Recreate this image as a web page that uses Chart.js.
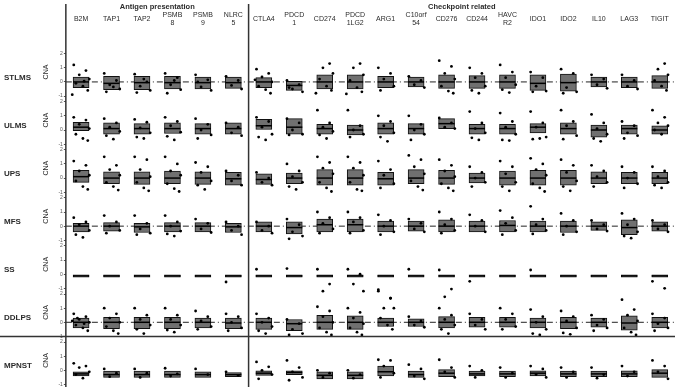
<!DOCTYPE html>
<html><head><meta charset="utf-8">
<script src="https://cdn.jsdelivr.net/npm/chart.js@4.4.1/dist/chart.umd.min.js"></script>
<style>html,body{margin:0;padding:0;background:#fff}</style>
</head><body>
<canvas id="c" width="675" height="387"></canvas>
<script>
// ---------- categories ----------
const genes = ["B2M","TAP1","TAP2","PSMB8","PSMB9","NLRC5","CTLA4","PDCD1","CD274","PDCD1LG2","ARG1","C10orf54","CD276","CD244","HAVCR2","IDO1","IDO2","IL10","LAG3","TIGIT"];
const geneLabels = [["B2M"],["TAP1"],["TAP2"],["PSMB","8"],["PSMB","9"],["NLRC","5"],["CTLA4"],["PDCD","1"],["CD274"],["PDCD","1LG2"],["ARG1"],["C10orf","54"],["CD276"],["CD244"],["HAVC","R2"],["IDO1"],["IDO2"],["IL10"],["LAG3"],["TIGIT"]];
const groupNames = ["Antigen presentation","Checkpoint related"];
const groupFirst = [0, 6];
const groupLast = [5, 19];
const cancers = ["STLMS","ULMS","UPS","MFS","SS","DDLPS","MPNST"];
const yTickValues = [-1, 0, 1, 2];
const refLineRows = ["STLMS","MFS","DDLPS"];

// ---------- values (CNA) ----------
const stlmsQ1  = [-0.4,-0.55,-0.55,-0.5,-0.5,-0.45,-0.4,-0.6,-0.5,-0.5,-0.4,-0.35,-0.45,-0.45,-0.45,-0.6,-0.65,-0.35,-0.4,-0.45];
const stlmsMed = [0,-0.1,-0.05,-0.05,-0.05,-0.05,0,-0.25,0,0,0,0,0,0,0,-0.1,-0.05,0,0,0];
const stlmsQ3  = [0.35,0.4,0.4,0.4,0.35,0.35,0.3,0.05,0.5,0.5,0.4,0.35,0.5,0.45,0.5,0.5,0.55,0.35,0.35,0.45];
const stlmsPts = [[1.2,0.8,0.5,0.2,-0.1,-0.3,-0.6,-0.9,0.05],[0.6,0.1,-0.2,-0.5,-0.7,-0.35],[0.55,0,-0.3,-0.6,-0.75,0.2],[0.6,0.3,-0.2,-0.55,-0.8,0.1],[0.5,0.15,-0.35,-0.6,0],[0.4,0.1,-0.25,-0.5],
  [0.9,0.6,0.35,0,-0.3,-0.55,-0.8,0.15],[0.1,-0.2,-0.5,-0.7,-0.4],[3.2,1.3,1.0,0.6,0.2,-0.3,-0.6,-0.8],[2.9,1.3,1.0,0.5,0.1,-0.4,-0.7,-0.85],[1.0,0.6,0.2,-0.3,-0.6],[0.4,0.1,-0.2,-0.4],[1.5,1.1,0.6,0.2,-0.3,-0.65,-0.8],[1.0,0.6,0.3,-0.3,-0.6,-0.8],[1.2,0.7,0.3,-0.2,-0.55,-0.75],[0.7,0.3,-0.3,-0.65,-0.7],[0.9,0.6,-0.4,-0.7,-0.8],[0.5,0.2,-0.2,-0.45],[0.5,0.1,-0.3,-0.5],[3.1,1.3,0.9,0.5,0.1,-0.3,-0.6]];

const ulmsQ1  = [-0.05,-0.3,-0.3,-0.25,-0.3,-0.3,0,-0.3,-0.3,-0.35,-0.3,-0.3,0.1,-0.3,-0.3,-0.2,-0.3,-0.5,-0.3,-0.3];
const ulmsMed = [0.2,0.1,0.1,0.1,0.1,0.1,0.3,0.2,0.1,0,0.1,0.1,0.45,0.1,0.1,0.2,0.1,0,0.1,0];
const ulmsQ3  = [0.55,0.5,0.45,0.5,0.45,0.5,0.75,0.8,0.4,0.35,0.5,0.45,0.8,0.4,0.4,0.45,0.5,0.35,0.35,0.3];
const ulmsPts = [[0.9,0.7,0.4,0.1,-0.3,-0.6,-0.75],[0.8,0.5,0.2,-0.1,-0.4,-0.65],[0.75,0.55,0.15,-0.2,-0.5,-0.6],[0.9,0.6,0.3,-0.15,-0.45,-0.7],[0.8,0.4,0,-0.35,-0.6],[0.5,0.2,-0.2,-0.4],
  [0.9,0.6,0.2,-0.3,-0.5,-0.7],[0.8,0.5,0,-0.3,-0.35],[1.4,0.5,0.2,-0.1,-0.35,-0.6],[1.4,0.3,0,-0.3,-0.5],[1.0,0.6,0.3,-0.2,-0.5,-0.8],[1.0,0.4,0,-0.3,-0.7],[0.85,0.5,0.2,0.1],[1.3,0.5,0.1,-0.2,-0.55,-0.7],[1.2,0.6,0.2,-0.3,-0.7,-0.75],[1.3,0.5,0.2,-0.5,-0.65,-0.6],[1.4,0.6,0.3,-0.4,-0.65],[1.1,0.5,0.1,-0.3,-0.6,-0.8],[0.6,0.3,-0.2,-0.4,-0.6],[1.4,0.9,0.5,0.3,0,-0.3]];

const upsQ1  = [-0.3,-0.4,-0.45,-0.4,-0.45,-0.5,-0.45,-0.4,-0.5,-0.5,-0.5,-0.4,-0.45,-0.35,-0.5,-0.5,-0.5,-0.4,-0.4,-0.4];
const upsMed = [0.1,0,0,0,0,-0.05,-0.1,0,0,0,-0.05,0,0,0,0,0,0,0,0,0];
const upsQ3  = [0.55,0.45,0.45,0.5,0.45,0.4,0.3,0.35,0.6,0.6,0.4,0.6,0.55,0.35,0.5,0.55,0.55,0.45,0.4,0.4];
const upsPts = [[1.2,0.9,0.5,0.2,-0.2,-0.6,-0.8],[1.5,0.9,0.6,0.2,-0.3,-0.6,-0.85],[1.5,1.3,0.6,0.1,-0.3,-0.7,-0.9],[1.5,1.0,0.5,0.2,-0.4,-0.75,-0.95],[1.1,0.8,0.4,-0.2,-0.5,-0.8],[0.5,0.2,-0.2,-0.5],
  [0.4,0,-0.3,-0.5],[1.0,0.5,0.1,-0.3,-0.6,-0.8],[1.5,1.1,0.7,0.3,-0.3,-0.7,-0.95],[1.5,1.1,0.7,0.2,-0.3,-0.8,-0.9],[1.2,0.6,0.2,-0.4,-0.7],[1.6,1.3,0.8,0.3,-0.2,-0.6,-0.85],[1.3,0.9,0.5,0.1,-0.4,-0.7,-0.9],[0.8,0.4,0,-0.3,-0.6],[1.2,0.8,0.3,-0.3,-0.6,-0.9],[1.4,1.0,0.6,0.2,-0.4,-0.7,-0.95],[1.3,0.9,0.4,-0.2,-0.6,-0.9],[0.9,0.5,0.1,-0.3,-0.6],[0.8,0.4,0,-0.4,-0.7],[0.8,0.5,0.1,-0.3,-0.5,-0.7]];

const mfsQ1  = [-0.4,-0.35,-0.45,-0.4,-0.4,-0.45,-0.4,-0.55,-0.4,-0.4,-0.4,-0.35,-0.4,-0.4,-0.4,-0.4,-0.45,-0.3,-0.6,-0.35];
const mfsMed = [0,0,-0.05,0,0,-0.05,0,-0.1,0.1,0.1,0,0,0,0,0.05,0,0,0,-0.1,0];
const mfsQ3  = [0.2,0.25,0.2,0.25,0.25,0.2,0.3,0.3,0.5,0.5,0.35,0.35,0.45,0.35,0.4,0.35,0.35,0.3,0.45,0.3];
const mfsPts = [[0.6,0.3,0.1,-0.3,-0.6,-0.8],[0.75,0.3,0,-0.3,-0.5],[0.75,0.2,-0.2,-0.5,-0.6],[0.75,0.3,0,-0.35,-0.55,-0.7],[0.5,0.2,-0.2,-0.45],[0.3,0,-0.3,-0.6],
  [0.3,0,-0.3,-0.5],[0.5,0.1,-0.4,-0.7,-0.9],[1.0,0.6,0.2,-0.2,-0.5],[1.0,0.6,0.3,-0.3,-0.5],[0.8,0.4,0,-0.4,-0.6],[0.5,0.2,-0.2,-0.4],[1.0,0.5,0.1,-0.3,-0.5],[0.8,0.4,0,-0.4],[1.1,0.6,0.2,-0.3,-0.6],[1.4,0.5,0.1,-0.3,-0.55],[0.9,0.4,0,-0.4,-0.6],[0.4,0.1,-0.2,-0.35],[0.9,0.5,0.1,-0.4,-0.7,-0.85],[0.4,0.1,-0.2,-0.4]];

const ssQ1  = [-0.2,-0.2,-0.2,-0.2,-0.2,-0.2,-0.2,-0.2,-0.2,-0.2,-0.2,-0.2,-0.2,-0.2,-0.2,-0.2,-0.2,-0.2,-0.2,-0.2];
const ssMed = [-0.12,-0.12,-0.12,-0.12,-0.12,-0.12,-0.12,-0.12,-0.12,-0.12,-0.12,-0.12,-0.12,-0.12,-0.12,-0.12,-0.12,-0.12,-0.12,-0.12];
const ssQ3  = [-0.05,-0.05,-0.05,-0.05,-0.05,-0.05,-0.05,-0.05,-0.05,-0.05,-0.05,-0.05,-0.05,-0.05,-0.05,-0.05,-0.05,-0.05,-0.05,-0.05];
const ssPts = [[],[],[],[],[],[-0.55],
  [0.35],[0.4],[0.35,-0.7,-1.2],[0.35,0,-0.7,-1.2],[-1.2,-1.7],[0.35],[0.3,-1.05,-1.6],[-0.5],[],[0.3],[],[],[],[-0.5,-1.0]];

const ddlpsQ1  = [-0.4,-0.45,-0.45,-0.45,-0.4,-0.45,-0.5,-0.6,-0.5,-0.5,-0.3,-0.3,-0.4,-0.35,-0.35,-0.4,-0.45,-0.35,-0.55,-0.4];
const ddlpsMed = [0,0,0,0,0,-0.05,0,-0.1,0,0,0,0,0,0,0,0,0,0,-0.05,0];
const ddlpsQ3  = [0.3,0.35,0.35,0.35,0.3,0.3,0.3,0.2,0.5,0.45,0.3,0.25,0.4,0.35,0.35,0.3,0.35,0.3,0.45,0.35];
const ddlpsPts = [[0.6,0.4,0.2,0,-0.2,-0.4,-0.6,0.1,-0.1,0.3],[1.0,0.6,0.3,0,-0.3,-0.6,-0.8],[1.0,0.5,0.2,-0.2,-0.5,-0.8],[1.0,0.5,0.2,-0.2,-0.55,-0.7],[0.8,0.4,0.1,-0.3,-0.5],[0.6,0.4,0,-0.4,-0.6],
  [0.6,0.3,0,-0.3,-0.6,-0.8],[0.2,-0.1,-0.5,-0.8,-0.9],[1.1,0.8,0.4,0,-0.4,-0.7,-0.9],[1.0,0.7,0.3,-0.1,-0.4,-0.7,-0.9],[2.3,1.7,1.0,1.0,0.3,-0.2,-0.5],[0.4,0.1,-0.2,-0.35],[1.0,0.5,0.2,-0.2,-0.5,-0.8],[0.6,0.2,-0.2,-0.5],[1.0,0.6,0.2,-0.3,-0.5],[0.9,0.4,0,-0.5,-0.8,-0.9],[0.8,0.4,0.1,-0.4,-0.75,-0.85],[0.5,0.2,-0.2,-0.4,-0.6],[1.6,0.9,0.5,0.1,-0.4,-0.7,-0.9],[0.6,0.3,-0.1,-0.4,-0.6]];

const mpnstQ1  = [-0.4,-0.5,-0.5,-0.5,-0.5,-0.45,-0.35,-0.3,-0.6,-0.6,-0.4,-0.5,-0.45,-0.4,-0.45,-0.4,-0.45,-0.45,-0.45,-0.5];
const mpnstMed = [-0.25,-0.3,-0.3,-0.3,-0.3,-0.3,-0.2,-0.15,-0.35,-0.35,-0.1,-0.3,-0.2,-0.25,-0.25,-0.2,-0.25,-0.25,-0.25,-0.2];
const mpnstQ3  = [-0.1,-0.05,-0.05,-0.05,-0.1,-0.15,0,0,-0.1,-0.1,0.3,-0.05,0.05,-0.05,-0.05,0,-0.05,-0.05,0,0.05];
const mpnstPts = [[0.5,0.3,0.2,-0.1,-0.3,-0.55],[0.1,-0.2,-0.45],[0.1,-0.2,-0.5],[0.15,-0.25,-0.4],[0.1,-0.3],[-0.1,-0.35],
  [0.6,0.25,0,-0.3,-0.6],[0.7,0.2,-0.1,-0.5,-0.7],[0,-0.2,-0.5],[0,-0.3,-0.55],[0.75,0.7,0.3,-0.2,-0.5],[0.4,0.1,-0.4,-0.6],[0.75,0.2,-0.1,-0.5],[0.3,0,-0.5],[0.2,-0.2,-0.5],[0.3,0.1,-0.3,-0.5],[0.2,-0.1,-0.5],[0.2,-0.3,-0.55],[0.3,-0.1,-0.4],[0.7,0.3,-0.1,-0.6]];

const rowQ1  = [stlmsQ1, ulmsQ1, upsQ1, mfsQ1, ssQ1, ddlpsQ1, mpnstQ1];
const rowMed = [stlmsMed, ulmsMed, upsMed, mfsMed, ssMed, ddlpsMed, mpnstMed];
const rowQ3  = [stlmsQ3, ulmsQ3, upsQ3, mfsQ3, ssQ3, ddlpsQ3, mpnstQ3];
const rowPts = [stlmsPts, ulmsPts, upsPts, mfsPts, ssPts, ddlpsPts, mpnstPts];

// ---------- styling ----------
const JITTER = [-0.24, 0.16, -0.06, 0.27, -0.17, 0.06, 0.22, -0.29, 0.1, -0.12];
const FONT = "'Liberation Sans', Arial, sans-serif";
const INK = "#2b2b2b";
const ROW_LABEL_AT = 0.3;

const datasets = [];
const scales = {
  x: {
    type: 'linear', position: 'top', min: -0.5, max: 19.5, offset: false,
    grid: { display: true, color: 'rgba(0,0,0,0)', drawTicks: true, tickLength: 24.5, tickColor: 'rgba(0,0,0,0)' },
    border: { display: false },
    afterBuildTicks: s => { s.ticks = genes.map((g, i) => ({ value: i })); },
    ticks: { autoSkip: false, maxRotation: 0, padding: 0, crossAlign: 'center', color: INK,
      font: { family: FONT, size: 7, lineHeight: 1.25 }, callback: v => geneLabels[v] }
  }
};

cancers.forEach((name, r) => {
  const id = 'y' + r;
  scales[id] = {
    type: 'linear', position: 'left', stack: 'rows', stackWeight: 1, weight: 10 - r,
    min: -1, max: 2.4,
    grid: { display: true, color: 'rgba(0,0,0,0)', drawTicks: true, tickLength: 2, tickColor: '#555' },
    border: { display: false },
    afterBuildTicks: s => { s.ticks = yTickValues.map(v => ({ value: v })); },
    ticks: { color: '#555', padding: 1, autoSkip: false, font: { family: FONT, size: 5, lineHeight: 0.6 } },
    title: { display: true, text: 'CNA', color: INK, padding: { top: 0, bottom: 7 }, font: { family: FONT, size: 7 } }
  };
  const pts = [];
  rowPts[r].forEach((vals, i) => vals.forEach((v, k) => pts.push({ x: i + JITTER[k % JITTER.length], y: v })));
  datasets.push({ type: 'scatter', label: name + ' samples', yAxisID: id, data: pts, order: 0, clip: false,
    pointRadius: 1.4, pointBackgroundColor: '#000', pointBorderWidth: 0 });
  datasets.push({ type: 'scatter', label: name + ' median', yAxisID: id, order: 1, clip: false,
    data: rowMed[r].map((m, i) => ({ x: i, y: m })),
    pointStyle: 'line', pointRadius: 8, pointBorderColor: '#000', pointBorderWidth: 1.5 });
  datasets.push({ type: 'bar', label: name + ' IQR', yAxisID: id, order: 2, grouped: false,
    data: rowQ1[r].map((q, i) => ({ x: i, y: [q, rowQ3[r][i]] })),
    backgroundColor: '#707070', borderColor: '#111', borderWidth: 1, borderSkipped: false, barThickness: 16 });
  if (refLineRows.includes(name)) {
    datasets.push({ type: 'line', label: name + ' ref', yAxisID: id, order: 3,
      data: [{ x: -0.5, y: 0 }, { x: 19.5, y: 0 }], borderColor: '#222', borderWidth: 1,
      borderDash: [6, 3, 1, 3], pointRadius: 0 });
  }
});

const decor = {
  id: 'decor',
  afterDraw(chart) {
    const ctx = chart.ctx, xs = chart.scales.x, area = chart.chartArea;
    ctx.save();
    ctx.strokeStyle = '#333'; ctx.lineWidth = 1.5;
    const divX = xs.getPixelForValue(5.5);
    ctx.beginPath();
    ctx.moveTo(area.left, 4); ctx.lineTo(area.left, chart.height);
    ctx.moveTo(divX, 4); ctx.lineTo(divX, chart.height);
    const yLast = chart.scales['y' + (cancers.length - 1)].top;
    ctx.moveTo(0, yLast); ctx.lineTo(chart.width, yLast);
    ctx.stroke();
    ctx.fillStyle = INK; ctx.textAlign = 'center'; ctx.textBaseline = 'middle';
    ctx.font = 'bold 7.5px ' + FONT;
    groupNames.forEach((g, k) => {
      const cx = (xs.getPixelForValue(groupFirst[k]) + xs.getPixelForValue(groupLast[k])) / 2;
      ctx.fillText(g, cx, 7);
    });
    ctx.textAlign = 'left'; ctx.font = 'bold 8px ' + FONT;
    cancers.forEach((name, r) => {
      const s = chart.scales['y' + r];
      ctx.fillText(name, 4, s.getPixelForValue(ROW_LABEL_AT));
    });
    ctx.restore();
  }
};

new Chart(document.getElementById('c'), {
  type: 'bar',
  data: { datasets },
  options: {
    responsive: false, animation: false, devicePixelRatio: 1,
    layout: { autoPadding: false, padding: { left: 42, top: 6, right: 0, bottom: 0 } },
    plugins: { legend: { display: false }, tooltip: { enabled: false } },
    scales
  },
  plugins: [decor]
});
</script>
</body></html>
